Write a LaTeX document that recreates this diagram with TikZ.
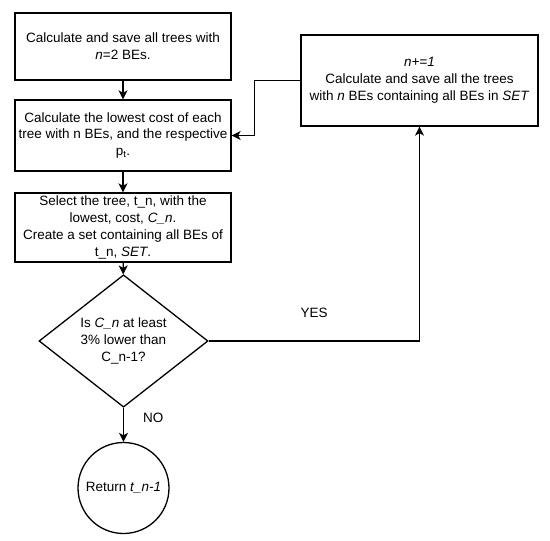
\documentclass[tikz,border=0pt]{standalone}
\usepackage{fontspec}
\setmainfont{Liberation Sans}
\usetikzlibrary{shapes.geometric,arrows.meta}
\begin{document}
\begin{tikzpicture}[x=1pt,y=-1pt,
  font=\fontsize{13.5}{16.8}\selectfont,
  box/.style={draw, line width=1.3pt, align=center, inner sep=0pt, minimum width=216pt},
  dec/.style={draw, line width=1.3pt, align=center, diamond, inner sep=0pt, minimum width=169pt, minimum height=112pt},
  term/.style={draw, line width=1.3pt, align=center, circle, inner sep=0pt, minimum size=91pt},
  arr/.style={line width=1.3pt, -{Stealth[length=9pt,width=9pt,inset=2.5pt]}},
  lbl/.style={inner sep=0pt}]
\useasboundingbox (0,0) rectangle (550,541);
\node[box, minimum height=67pt] (b1) at (123,46.5) {Calculate and save all trees with\\\textit{n}=2 BEs.};
\node[box, minimum height=71pt] (b2) at (123,135.5) {Calculate the lowest cost of each\\tree with n BEs, and the respective\\p\textsubscript{t}.};
\node[box, minimum height=69pt] (b3) at (123,227.5) {Select the tree, t\_n, with the\\lowest, cost, \textit{C\_n}.\\Create a set containing all BEs of\\t\_n, \textit{SET}.};
\node[dec] (d) at (123.5,341) {Is \textit{C\_n} at least\\3\% lower than\\C\_n-1?};
\node[term] (c) at (123.5,488) {Return \textit{t\_n-1}};
\node[box, minimum width=237pt, minimum height=91pt] (b4) at (419.5,80.5) {\textit{n+=1}\\Calculate and save all the trees\\with \textit{n} BEs containing all BEs in \textit{SET}};
\draw[arr] (b1) -- (b2);
\draw[arr] (b2) -- (b3);
\draw[arr] (b3) -- (d);
\draw[arr] (d) -- node[lbl, pos=0.3, right=19pt] {NO} (c);
\draw[arr] (d.east) -| node[lbl, pos=0.25, above=23pt] {YES} (b4.south);
\draw[arr] (b4.west) -- ++(-46,0) |- (b2.east);
\end{tikzpicture}
\end{document}
